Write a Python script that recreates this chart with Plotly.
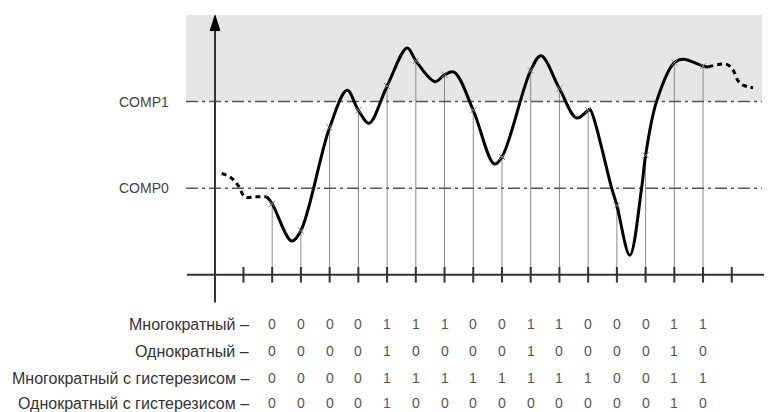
import plotly.graph_objects as go

# ---------------- data ----------------
comp_levels = [1.0, 2.0]
comp_labels = ["COMP0", "COMP1"]

sample_x = list(range(1, 17))
sample_y = [0.82, 0.51, 1.70, 1.90, 2.18, 2.47, 2.31, 1.90,
            1.36, 2.36, 2.15, 1.90, 0.80, 1.38, 2.45, 2.41]

# extra shape points of the analog signal (extrema / crossings)
shape_x = [0.81, 1.68, 3.61, 4.37, 5.70, 6.67, 7.33, 8.73, 10.36,
           11.60, 12.06, 12.82, 13.45, 13.86, 14.38, 15.31, 16.18]
shape_y = [0.90, 0.39, 2.13, 1.75, 2.62, 2.23, 2.34, 1.28, 2.53,
           1.81, 1.91, 1.00, 0.225, 1.00, 2.00, 2.49, 2.40]

lead_x = [-0.76, -0.47, -0.18, 0.05, 0.40, 0.81]
lead_y = [1.17, 1.13, 1.03, 0.90, 0.90, 0.90]
tail_x = [16.18, 16.82, 17.05, 17.22, 17.39, 17.74]
tail_y = [2.40, 2.43, 2.36, 2.24, 2.19, 2.16]

row_labels = ["Многократный", "Однократный",
              "Многократный с гистерезисом", "Однократный с гистерезисом"]
row_values = [
    [0, 0, 0, 0, 1, 1, 1, 0, 0, 1, 1, 0, 0, 0, 1, 1],
    [0, 0, 0, 0, 1, 0, 0, 0, 0, 1, 0, 0, 0, 0, 1, 0],
    [0, 0, 0, 0, 1, 1, 1, 1, 1, 1, 1, 1, 0, 0, 1, 1],
    [0, 0, 0, 0, 1, 0, 0, 0, 0, 0, 0, 0, 0, 0, 1, 0],
]
tick_positions = list(range(0, 18))

# ---------------- layout constants ----------------
X_MIN, X_MAX = -2.0, 18.4
Y_MIN, Y_MAX = -1.585, 3.0
ROW_Y = [-0.571, -0.882, -1.193, -1.482]
FONT = "Liberation Sans, Arial, sans-serif"

curve = sorted(zip(sample_x + shape_x, sample_y + shape_y))
curve_x = [p[0] for p in curve]
curve_y = [p[1] for p in curve]

fig = go.Figure()

# vertical sample lines
vx, vy = [], []
for x, y in zip(sample_x, sample_y):
    vx += [x, x, None]
    vy += [0, y, None]
fig.add_trace(go.Scatter(x=vx, y=vy, mode="lines",
                         line=dict(color="#8a8a8a", width=1), hoverinfo="skip"))

# comparator levels
for lvl in comp_levels:
    fig.add_trace(go.Scatter(x=[X_MIN, 18.05], y=[lvl, lvl], mode="lines",
                             line=dict(color="#555555", width=1.5,
                                       dash="12px,4px,3px,4px"),
                             hoverinfo="skip"))

# dashed lead-in / tail
for xs, ys in [(lead_x, lead_y), (tail_x, tail_y)]:
    fig.add_trace(go.Scatter(x=xs, y=ys, mode="lines",
                             line=dict(color="black", width=3, dash="5px,4px",
                                       shape="spline", smoothing=1.0),
                             hoverinfo="skip"))

# solid analog signal
fig.add_trace(go.Scatter(x=curve_x, y=curve_y, mode="lines",
                         line=dict(color="black", width=3, shape="spline",
                                   smoothing=1.0),
                         hoverinfo="skip"))

# sample markers
fig.add_trace(go.Scatter(x=sample_x, y=sample_y, mode="markers",
                         marker=dict(symbol="x-thin", size=6,
                                     line=dict(color="#777777", width=1)),
                         hoverinfo="skip"))

shapes = [
    dict(type="rect", xref="x", yref="y", x0=X_MIN, x1=18.05, y0=2.0, y1=3.0,
         fillcolor="#e6e6e6", line=dict(width=0), layer="below"),
    dict(type="line", xref="x", yref="y", x0=X_MIN + 0.03, x1=X_MAX, y0=0, y1=0,
         line=dict(color="#333333", width=2)),
    dict(type="line", xref="x", yref="y", x0=-0.99, x1=-0.99, y0=-0.32, y1=2.85,
         line=dict(color="#333333", width=2)),
    dict(type="path", xref="x", yref="y",
         path="M -1.16 2.82 L -0.82 2.82 L -0.99 2.995 Z",
         fillcolor="black", line=dict(color="black", width=1)),
]
for t in tick_positions:
    shapes.append(dict(type="line", xref="x", yref="y", x0=t, x1=t,
                       y0=-0.09, y1=0.09, line=dict(color="#333333", width=2)))

annotations = []
for lvl, lab in zip(comp_levels, comp_labels):
    annotations.append(dict(x=0, y=lvl, xref="paper", yref="y", text=lab,
                            xshift=-15, showarrow=False, xanchor="right",
                            yanchor="middle",
                            font=dict(family=FONT, size=14, color="#444444")))
for ry, lab, vals in zip(ROW_Y, row_labels, row_values):
    annotations.append(dict(x=0.27, y=ry, xref="x", yref="y", text=lab + " –",
                            showarrow=False, xanchor="right", yanchor="middle",
                            font=dict(family=FONT, size=16, color="#333333")))
    for x, v in zip(sample_x, vals):
        annotations.append(dict(x=x, y=ry, xref="x", yref="y", text=str(v),
                                showarrow=False, xanchor="center", yanchor="middle",
                                font=dict(family=FONT, size=14, color="#555555")))

# page body has an 8px margin: shift figure so the plot lands at the right pixels
fig.update_layout(
    width=764, height=404,
    margin=dict(l=178, r=0, t=7, b=0),
    plot_bgcolor="white", paper_bgcolor="white",
    showlegend=False,
    xaxis=dict(range=[X_MIN, X_MAX], visible=False, fixedrange=True),
    yaxis=dict(range=[Y_MIN, Y_MAX], visible=False, fixedrange=True),
    shapes=shapes, annotations=annotations,
)

fig.write_html("out.html")
